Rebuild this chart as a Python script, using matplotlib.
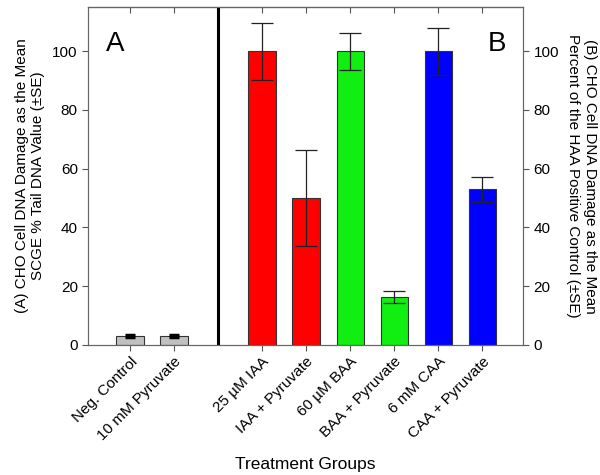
import matplotlib
matplotlib.use("Agg")
from matplotlib import pyplot as plt

plt.rcParams['font.family'] = ['Liberation Sans', 'DejaVu Sans']

# data
groups = ['Neg. Control', '10 mM Pyruvate', '25 µM IAA', 'IAA + Pyruvate',
          '60 µM BAA', 'BAA + Pyruvate', '6 mM CAA', 'CAA + Pyruvate']
positions = [0, 1, 3, 4, 5, 6, 7, 8]
means = [3.0, 3.0, 100, 50, 100, 16.3, 100, 53]
errors = [0.3, 0.3, 9.7, 16.5, 6.3, 2.1, 8.0, 4.2]
colors = ['#c0c0c0', '#c0c0c0', '#ff0000', '#ff0000',
          '#11ee11', '#11ee11', '#0000ff', '#0000ff']
divider_pos = 2

fig = plt.figure(figsize=(6, 4.75), dpi=100)
ax = fig.add_axes([0.147, 0.274, 0.725, 0.711])

ax.bar(positions, means, width=0.62, color=colors, edgecolor='#333333',
       linewidth=0.8, zorder=2)
ax.errorbar(positions[2:], means[2:], yerr=errors[2:], fmt='none',
            ecolor='#222222', elinewidth=0.9, capsize=8, capthick=0.9, zorder=3)
ax.errorbar(positions[:2], means[:2], yerr=errors[:2], fmt='none',
            ecolor='black', elinewidth=2.5, capsize=3.5, capthick=2.5, zorder=3)

ax.axvline(divider_pos, color='black', linewidth=2.2, zorder=4)

ax.set_xlim(-0.95, 8.93)
ax.set_ylim(0, 115)
ax.set_yticks([0, 20, 40, 60, 80, 100])
ax.set_xticks(positions)
ax.set_xticklabels(groups, rotation=45, ha='right', rotation_mode='anchor',
                   fontsize=11)
ax.tick_params(axis='y', labelsize=11, direction='out', length=4,
               color='#555555')
ax.tick_params(axis='x', direction='out', length=4, color='#555555', pad=3)
for s in ax.spines.values():
    s.set_color('#666666')

ax.set_ylabel('(A) CHO Cell DNA Damage as the Mean\nSCGE % Tail DNA Value (±SE)',
              fontsize=11, labelpad=5)
ax.set_xlabel('Treatment Groups', fontsize=12.5, labelpad=10)

# inward ticks along the top
top = ax.secondary_xaxis('top')
top.set_xticks(positions)
top.set_xticklabels([])
top.tick_params(direction='in', length=4, color='#555555')

# right axis with the same scale
right = ax.twinx()
right.set_ylim(0, 115)
right.set_yticks([0, 20, 40, 60, 80, 100])
right.tick_params(labelsize=11, direction='out', length=4, color='#555555')
right.set_ylabel('(B) CHO Cell DNA Damage as the Mean\nPercent of the HAA Positive Control (±SE)',
                 fontsize=11, rotation=270, labelpad=27)
for s in right.spines.values():
    s.set_color('#666666')

ax.text(0.04, 0.93, 'A', transform=ax.transAxes, fontsize=20, va='top')
ax.text(0.96, 0.93, 'B', transform=ax.transAxes, fontsize=20, va='top',
        ha='right')

fig.savefig('out.png', dpi=100)
